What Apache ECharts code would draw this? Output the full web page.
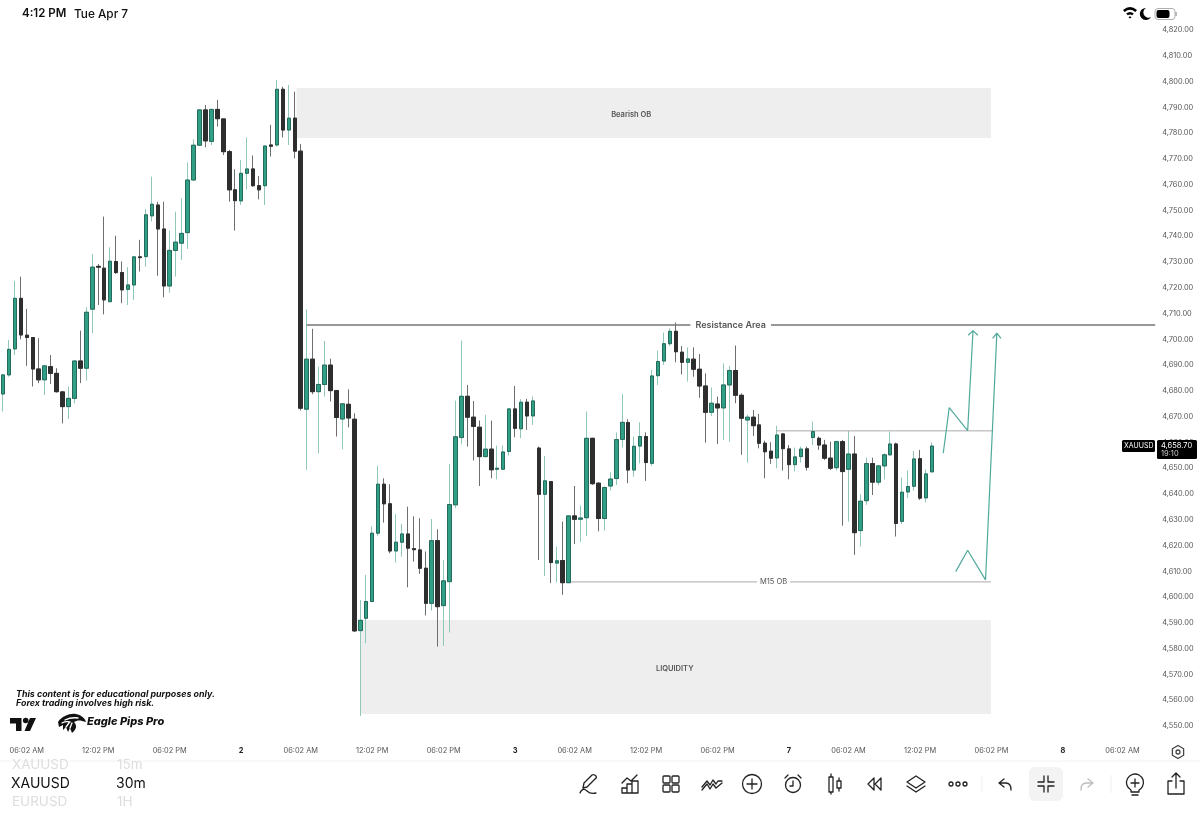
<!DOCTYPE html>
<html>
<head>
<meta charset="utf-8">
<style>
  html, body { margin: 0; padding: 0; background: #fff; }
  #chart { width: 1200px; height: 827px; }
</style>
<script src="https://cdn.jsdelivr.net/npm/echarts@6/dist/echarts.min.js"></script>
</head>
<body>
<div id="chart"></div>
<script>
const opens = [
  4678.8, 4686.2, 4696.3, 4715.9, 4701.6, 4700.7, 4688.5, 4684.3, 4689.4, 4686.8,
  4679.6, 4673.9, 4677.1, 4691.6, 4688.8, 4711.7, 4728.3, 4727.6, 4714.6, 4730.2,
  4725.9, 4719.4, 4721.1, 4732.0, 4732.1, 4747.9, 4752.1, 4742.8, 4720.7, 4734.5,
  4737.3, 4741.4, 4761.8, 4775.3, 4789.0, 4776.8, 4789.2, 4785.5, 4772.8, 4758.0,
  4753.7, 4764.4, 4766.1, 4759.6, 4759.6, 4775.4, 4775.4, 4797.0, 4781.2, 4785.8,
  4773.0, 4672.9, 4692.3, 4679.7, 4682.5, 4690.0, 4680.1, 4669.1, 4674.8, 4669.0,
  4587.0, 4591.8, 4598.3, 4624.8, 4643.8, 4636.2, 4617.9, 4621.3, 4624.5, 4618.8,
  4618.3, 4611.2, 4597.6, 4621.9, 4596.7, 4606.0, 4635.8, 4661.9, 4677.9, 4669.8,
  4665.9, 4654.5, 4657.4, 4649.6, 4649.6, 4656.5, 4673.0, 4665.3, 4675.6, 4670.3,
  4657.8, 4639.9, 4644.8, 4613.2, 4614.2, 4605.6, 4631.5, 4630.2, 4630.8, 4661.6,
  4644.2, 4630.5, 4643.1, 4646.0, 4661.2, 4667.7, 4649.3, 4658.6, 4662.3, 4651.9,
  4685.9, 4691.6, 4698.3, 4703.1, 4695.0, 4691.1, 4692.3, 4688.4, 4681.9, 4671.7,
  4674.9, 4673.4, 4682.3, 4687.9, 4678.3, 4668.7, 4669.8, 4666.8, 4659.7, 4656.6,
  4654.0, 4663.3, 4657.5, 4651.4, 4654.5, 4657.5, 4661.9, 4661.6, 4659.0, 4653.9,
  4650.2, 4660.3, 4649.6, 4655.5, 4625.8, 4637.4, 4651.8, 4644.6, 4650.9, 4655.2,
  4659.4, 4629.4, 4640.8, 4643.0, 4653.7, 4638.5, 4648.6
];
const closes = [
  4686.2, 4696.1, 4715.9, 4701.7, 4700.7, 4688.5, 4684.3, 4689.7, 4686.8, 4679.7,
  4673.9, 4677.1, 4691.6, 4688.8, 4710.5, 4728.0, 4728.0, 4715.3, 4730.3, 4725.9,
  4719.2, 4721.1, 4732.0, 4731.7, 4748.3, 4752.4, 4742.8, 4720.7, 4734.5, 4737.7,
  4741.1, 4761.8, 4775.3, 4789.0, 4777.0, 4789.2, 4785.6, 4772.8, 4758.0, 4753.8,
  4764.4, 4766.1, 4759.6, 4758.0, 4775.0, 4774.9, 4797.0, 4781.2, 4785.8, 4773.0,
  4673.3, 4692.3, 4679.7, 4682.5, 4690.0, 4680.1, 4669.7, 4675.0, 4669.5, 4586.9,
  4591.0, 4598.3, 4624.8, 4643.8, 4636.2, 4617.9, 4621.3, 4624.5, 4619.0, 4618.4,
  4611.2, 4597.6, 4621.9, 4596.3, 4606.3, 4635.9, 4662.2, 4677.9, 4669.8, 4666.2,
  4654.5, 4657.4, 4649.4, 4650.0, 4656.3, 4673.0, 4665.5, 4675.6, 4670.3, 4676.1,
  4639.9, 4645.1, 4613.4, 4614.1, 4605.6, 4631.5, 4630.2, 4630.7, 4661.6, 4644.0,
  4630.5, 4642.5, 4645.8, 4661.1, 4667.8, 4649.3, 4658.5, 4662.3, 4652.2, 4685.8,
  4691.4, 4698.3, 4703.1, 4695.2, 4691.1, 4692.4, 4688.4, 4681.9, 4671.7, 4675.2,
  4673.4, 4682.3, 4687.9, 4678.3, 4669.4, 4669.8, 4666.5, 4659.7, 4656.4, 4653.9,
  4662.9, 4657.6, 4651.4, 4654.4, 4657.4, 4650.4, 4664.2, 4659.0, 4653.9, 4650.0,
  4660.3, 4648.7, 4655.5, 4625.0, 4637.2, 4651.8, 4644.6, 4650.9, 4655.2, 4659.4,
  4628.6, 4640.7, 4642.9, 4653.6, 4638.4, 4647.8, 4658.6
];
const lows = [
  4672.0, 4685.5, 4693.9, 4700.0, 4689.7, 4681.7, 4683.0, 4678.4, 4682.7, 4679.3,
  4667.4, 4669.1, 4675.2, 4683.0, 4684.0, 4702.4, 4713.3, 4709.7, 4714.6, 4725.4,
  4714.0, 4713.3, 4715.3, 4726.3, 4728.2, 4745.7, 4724.7, 4716.3, 4718.1, 4724.3,
  4730.8, 4735.1, 4761.8, 4775.3, 4774.5, 4775.4, 4782.5, 4771.5, 4753.4, 4742.2,
  4752.1, 4758.2, 4759.2, 4754.3, 4752.1, 4770.9, 4774.8, 4778.3, 4775.4, 4770.2,
  4672.4, 4649.4, 4678.7, 4655.8, 4677.8, 4675.9, 4662.3, 4657.4, 4665.8, 4586.5,
  4553.9, 4582.1, 4598.0, 4623.8, 4628.9, 4617.0, 4613.4, 4615.7, 4603.8, 4613.8,
  4609.0, 4592.9, 4594.8, 4580.8, 4581.1, 4586.3, 4634.5, 4659.3, 4658.4, 4653.0,
  4643.1, 4654.3, 4646.1, 4645.7, 4649.3, 4654.9, 4662.0, 4661.6, 4664.9, 4666.8,
  4614.4, 4608.2, 4605.4, 4605.7, 4600.9, 4605.4, 4620.6, 4621.4, 4623.7, 4643.5,
  4625.5, 4625.8, 4641.3, 4643.5, 4658.1, 4644.2, 4646.7, 4651.9, 4645.1, 4650.9,
  4682.3, 4690.1, 4697.4, 4691.1, 4686.4, 4683.6, 4685.5, 4677.3, 4659.9, 4670.3,
  4659.4, 4661.0, 4660.3, 4675.2, 4655.2, 4652.2, 4662.5, 4657.7, 4646.1, 4651.7,
  4650.0, 4649.1, 4645.7, 4648.7, 4652.2, 4649.1, 4659.0, 4657.1, 4653.2, 4649.3,
  4649.1, 4627.7, 4629.3, 4616.4, 4619.6, 4635.8, 4639.6, 4643.3, 4645.7, 4654.9,
  4623.5, 4628.3, 4638.4, 4641.3, 4637.7, 4636.7, 4648.4
];
const highs = [
  4686.5, 4699.8, 4722.7, 4724.3, 4711.8, 4700.7, 4700.4, 4690.1, 4693.9, 4688.8,
  4680.0, 4681.7, 4692.0, 4703.4, 4712.4, 4733.1, 4729.2, 4747.6, 4735.7, 4740.2,
  4730.2, 4728.0, 4732.1, 4738.6, 4750.5, 4763.1, 4753.4, 4753.4, 4742.2, 4749.5,
  4754.7, 4768.6, 4777.6, 4789.2, 4790.9, 4789.4, 4792.9, 4785.6, 4773.5, 4766.0,
  4769.6, 4778.3, 4771.3, 4763.4, 4775.2, 4783.2, 4800.6, 4798.0, 4798.7, 4796.1,
  4775.8, 4711.7, 4704.1, 4689.4, 4699.4, 4692.5, 4680.4, 4675.3, 4680.6, 4671.3,
  4598.9, 4608.6, 4627.4, 4651.0, 4646.1, 4643.8, 4632.2, 4628.4, 4635.1, 4631.3,
  4630.6, 4617.7, 4630.3, 4626.3, 4614.4, 4651.6, 4676.2, 4699.5, 4682.3, 4676.1,
  4668.5, 4670.7, 4668.5, 4658.8, 4658.8, 4673.3, 4681.9, 4676.8, 4676.9, 4677.8,
  4658.4, 4654.8, 4645.0, 4619.6, 4629.3, 4631.7, 4643.1, 4635.5, 4672.0, 4661.8,
  4644.5, 4642.9, 4648.4, 4663.9, 4678.8, 4669.0, 4662.3, 4667.8, 4663.9, 4688.1,
  4695.6, 4702.6, 4704.3, 4706.5, 4697.4, 4696.9, 4696.9, 4694.3, 4686.8, 4681.3,
  4677.8, 4690.7, 4689.7, 4697.6, 4679.0, 4670.7, 4672.6, 4671.1, 4660.7, 4660.1,
  4666.5, 4663.6, 4659.0, 4658.0, 4658.4, 4658.4, 4668.1, 4662.3, 4661.0, 4660.3,
  4660.7, 4661.0, 4664.6, 4662.5, 4639.9, 4654.1, 4654.1, 4651.3, 4655.8, 4664.2,
  4659.9, 4646.4, 4649.1, 4656.7, 4657.1, 4649.6, 4660.1
];

// bar slots on the time axis, the right part is empty future space
const slotCount = 194;
const timeTickSlots = [4, 16, 28, 40, 50, 62, 74, 86, 96, 108, 120, 132, 142, 154, 166, 178, 188];
const timeTickLabels = ["06:02 AM", "12:02 PM", "06:02 PM", "2", "06:02 AM", "12:02 PM", "06:02 PM", "3",
  "06:02 AM", "12:02 PM", "06:02 PM", "7", "06:02 AM", "12:02 PM", "06:02 PM", "8", "06:02 AM"];

// shaded zones: slot range and price range
const zoneNames = ["Bearish OB", "LIQUIDITY"];
const zoneFrom = [49.3, 60.1];
const zoneTo = [165.9, 165.9];
const zoneTop = [4797.5, 4591.1];
const zoneBottom = [4778.1, 4554.7];
const zoneLabelAt = [105.5, 112.8];

// horizontal levels
const levelNames = ["Resistance Area", "M15 OB", ""];
const levelPrices = [4705.6, 4605.9, 4664.5];
const levelFrom = [51, 94.8, 129.9];
const levelTo = [193.5, 165.9, 166.3];
const levelLabelAt = [122.2, 129.4, 148];

// projected paths with open arrow heads, [slot, price]
const pathA = [[157.9, 4655.8], [158.9, 4673.5], [162.0, 4664.6], [162.9, 4703.4], [162.1, 4701.6], [162.9, 4703.4], [163.7, 4701.6]];
const pathB = [[160.0, 4609.9], [162.0, 4618.2], [165.0, 4606.7], [166.9, 4702.4], [166.2, 4700.4], [166.9, 4702.4], [167.6, 4700.4]];

const upBody = "#2f9f85";
const upEdge = "#26685a";
const upWick = "#8fc8bb";
const downBody = "#2e2e2e";
const downWick = "#6e6e6e";
const arrowColor = "#4fa99a";
const uiFont = "Inter, 'Noto Sans', sans-serif";

const slots = Array.from({ length: slotCount }, (_, i) => String(i));

const wickData = opens.map((o, i) => [o, closes[i], lows[i], highs[i]]);
const bodyData = opens.map((o, i) => [o, closes[i], Math.min(o, closes[i]), Math.max(o, closes[i])]);

function levelSeries(i) {
  const labelled = {
    value: [levelLabelAt[i], levelPrices[i]],
    label: {
      show: !!levelNames[i],
      formatter: levelNames[i],
      position: "inside",
      backgroundColor: "#fff",
      padding: i === 0 ? [1, 5] : [1, 3],
      color: "#555",
      fontFamily: uiFont,
      fontSize: i === 0 ? 9 : 7.5,
      fontWeight: i === 0 ? 600 : 400,
    },
  };
  return {
    type: "line",
    xAxisIndex: 1,
    yAxisIndex: 0,
    symbol: "circle",
    symbolSize: 0,
    showSymbol: true,
    silent: true,
    z: 3,
    lineStyle: { color: i === 0 ? "#777" : "#aaa", width: i === 0 ? 1.5 : 1 },
    data: [[levelFrom[i], levelPrices[i]], labelled, [levelTo[i], levelPrices[i]]],
  };
}

function pathSeries(points) {
  return {
    type: "line",
    xAxisIndex: 1,
    yAxisIndex: 0,
    showSymbol: false,
    silent: true,
    z: 4,
    lineStyle: { color: arrowColor, width: 1.2 },
    data: points,
  };
}

const zoneSeries = {
  type: "custom",
  xAxisIndex: 1,
  yAxisIndex: 0,
  silent: true,
  z: 1,
  data: zoneNames.map((name, i) => [zoneFrom[i], zoneTo[i], zoneTop[i], zoneBottom[i], zoneLabelAt[i]]),
  encode: { x: [0, 1], y: [2, 3] },
  renderItem(params, api) {
    const a = api.coord([api.value(0), api.value(2)]);
    const b = api.coord([api.value(1), api.value(3)]);
    const at = api.coord([api.value(4), (api.value(2) + api.value(3)) / 2]);
    return {
      type: "group",
      children: [
        { type: "rect", shape: { x: a[0], y: a[1], width: b[0] - a[0], height: b[1] - a[1] }, style: { fill: "#eeeeee" } },
        {
          type: "text",
          x: at[0],
          y: at[1] + 2,
          style: {
            text: zoneNames[params.dataIndex],
            align: "center",
            verticalAlign: "middle",
            fill: "#555",
            font: "600 7.5px " + uiFont,
          },
        },
      ],
    };
  },
};

// ---- app chrome ----
function label(text, x, y, size, color, extra) {
  return {
    type: "text",
    x,
    y,
    silent: true,
    style: Object.assign({
      text,
      fill: color,
      font: size + "px " + uiFont,
      align: "left",
      verticalAlign: "middle",
    }, extra || {}),
  };
}

function icon(pathData, x, y, color, filled) {
  return {
    type: "path",
    x,
    y,
    silent: true,
    shape: { pathData },
    style: filled
      ? { fill: color, stroke: "none" }
      : { fill: "none", stroke: color, lineWidth: 1.3, lineCap: "round", lineJoin: "round" },
  };
}

const toolbarIcons = [
  [589, "M-9 9 C-7 4 -4 5 -2 7 S3 10 7 9 M-6 4 L-5 -1 L3 -9 Q5 -10 7 -8 Q8 -6 6 -5 L-2 3 Z"],
  [630, "M-8 9 V4 H-3 V9 Z M-3 9 V0 H2 V9 Z M2 9 V-3 H8 V9 Z M-8 -1 L-3 -6 L1 -3 L7 -9"],
  [671, "M-7 -8 H-2 Q-1 -8 -1 -7 V-2 Q-1 -1 -2 -1 H-7 Q-8 -1 -8 -2 V-7 Q-8 -8 -7 -8 Z M2 -8 H7 Q8 -8 8 -7 V-2 Q8 -1 7 -1 H2 Q1 -1 1 -2 V-7 Q1 -8 2 -8 Z M-7 1 H-2 Q-1 1 -1 2 V7 Q-1 8 -2 8 H-7 Q-8 8 -8 7 V2 Q-8 1 -7 1 Z M2 1 H7 Q8 1 8 2 V7 Q8 8 7 8 H2 Q1 8 1 7 V2 Q1 1 2 1 Z"],
  [712, "M-10 3 L-5 -3 L-2 1 L1 -4 L4 0 L6 -3 L10 -3 M-10 6 L-5 0 L-2 5 L1 0 L4 4 L10 -1"],
  [752, "M-9.5 0 A9.5 9.5 0 1 1 9.5 0 A9.5 9.5 0 1 1 -9.5 0 Z M-5 0 H5 M0 -5 V5"],
  [793, "M-7.5 1 A7.5 7.5 0 1 1 7.5 1 A7.5 7.5 0 1 1 -7.5 1 Z M0 -3 V2 H-3 M-8 -6 L-5 -9 M8 -6 L5 -9"],
  [835, "M-4 -10 V-7 M-4 8 V10 M-6 -7 H-2 V8 H-6 Z M4 -6 V-3 M4 4 V7 M2 -3 H6 V4 H2 Z"],
  [875, "M-1 -6 L-7 0 L-1 6 Z M6 -6 L0 0 L6 6 Z"],
  [916, "M0 -8 L9 -2 L0 4 L-9 -2 Z M-9 2 L0 8 L9 2"],
  [958, "M-5 0 A2 2 0 1 1 -9 0 A2 2 0 1 1 -5 0 Z M2 0 A2 2 0 1 1 -2 0 A2 2 0 1 1 2 0 Z M9 0 A2 2 0 1 1 5 0 A2 2 0 1 1 9 0 Z"],
  [1005, "M-1 -5 L-6 -1 L-1 3 M-6 -1 H1 Q6 -1 6 6"],
  [1046, "M-2 -8 V-2 H-8 M2 -8 V-2 H8 M-2 8 V2 H-8 M2 8 V2 H8"],
  [1087, "M1 -5 L6 -1 L1 3 M6 -1 H-1 Q-6 -1 -6 6", "#bdbdbd"],
  [1135, "M-4 6 A8.5 8.5 0 1 1 4 6 V8 H-4 Z M-3 11 H3 M-4 -1 H4 M0 -5 V3"],
  [1176, "M-4 -3 H-8 V10 H8 V-3 H4 M0 4 V-11 M-4 -7 L0 -11 L4 -7"],
];

const chromeItems = [
  { type: "rect", silent: true, shape: { x: 1029, y: 767, width: 34, height: 34, r: 6 }, style: { fill: "#f3f3f3" } },
  label("4:12 PM", 22, 14, 11.5, "#111", { font: "600 11.5px " + uiFont }),
  label("Tue Apr 7", 74, 14, 11.8, "#111", { font: "500 11.8px " + uiFont }),
  // wifi
  icon("M-7 -1 Q0 -7 7 -1 L5.3 1 Q0 -3.5 -5.3 1 Z M-3.8 2.6 Q0 -0.6 3.8 2.6 L2.2 4.3 Q0 2.8 -2.2 4.3 Z M0 5.2 L1.5 6.3 L0 7.5 L-1.5 6.3 Z", 1130, 11, "#000", true),
  // moon
  icon("M1 -6 A6 6 0 1 0 6 3 A5 5 0 0 1 1 -6 Z", 1145, 14, "#000", true),
  { type: "rect", silent: true, shape: { x: 1155, y: 8.5, width: 20, height: 11, r: 3 }, style: { fill: "none", stroke: "#999", lineWidth: 0.8 } },
  { type: "rect", silent: true, shape: { x: 1156.5, y: 10, width: 13, height: 8, r: 2 }, style: { fill: "#000" } },
  { type: "rect", silent: true, shape: { x: 1175.5, y: 12, width: 1.2, height: 4 }, style: { fill: "#999" } },

  // price tags
  { type: "rect", silent: true, shape: { x: 1122, y: 440, width: 33, height: 12, r: 1.5 }, style: { fill: "#000" } },
  label("XAUUSD", 1124, 446, 7, "#fff"),
  { type: "rect", silent: true, shape: { x: 1157, y: 440, width: 40, height: 19, r: 1.5 }, style: { fill: "#000" } },
  label("4,658.70", 1161, 445.5, 7.5, "#fff"),
  label("19:10", 1161, 453.5, 7.5, "#ccc"),

  // disclaimer and logos
  label("This content is for educational purposes only.", 16, 694, 8.9, "#111", { font: "italic 700 8.9px " + uiFont }),
  label("Forex trading involves high risk.", 16, 703, 8.9, "#111", { font: "italic 700 8.9px " + uiFont }),
  icon("M10 718 H21.5 V731 H16 V723.5 H10 Z M28.5 720.5 A2.8 2.8 0 1 1 22.9 720.5 A2.8 2.8 0 1 1 28.5 720.5 Z M30 718 H36 L30 731 H24.5 Z", 0, 0, "#111", true),
  icon("M58 722 C62 716 70 713 76 714 C81 715 85 718 86 722 L82 721 C79 720 76 721 74 722 C77 725 77 729 72 733 L70 728 L68 732 L66 727 L63 730 L63 725 L59 727 Z", 0, 0, "#111", true),
  icon("M65 720 Q71 717 78 718 M62 723 Q66 721 70 722 M66 727 L69 723 M70 728 L72 723", 0, 0, "#fff"),
  label("Eagle Pips Pro", 87, 722, 11, "#111", { font: "italic 800 11px " + uiFont }),

  // bottom bar
  { type: "line", silent: true, shape: { x1: 0, y1: 761, x2: 1200, y2: 761 }, style: { stroke: "#f2f2f2", lineWidth: 1 } },
  icon("M0 -6.5 L5.6 -3.2 V3.2 L0 6.5 L-5.6 3.2 V-3.2 Z M2 0 A2 2 0 1 1 -2 0 A2 2 0 1 1 2 0 Z", 1178, 752, "#444"),
  label("XAUUSD", 12, 765, 13.5, "#ddd"),
  label("15m", 117, 765, 13.5, "#ddd"),
  label("XAUUSD", 11, 784, 14, "#111"),
  label("30m", 116, 784, 14, "#111"),
  label("EURUSD", 12, 802, 13.5, "#ddd"),
  label("1H", 117, 802, 13.5, "#ddd"),
  { type: "line", silent: true, shape: { x1: 982, y1: 775, x2: 982, y2: 793 }, style: { stroke: "#f0f0f0", lineWidth: 1 } },
  { type: "line", silent: true, shape: { x1: 1111, y1: 775, x2: 1111, y2: 793 }, style: { stroke: "#f0f0f0", lineWidth: 1 } },
].concat(toolbarIcons.map((t) => icon(t[1], t[0], 784, t[2] || "#222")));

// graphic has no path element, a free custom series does
const chromeSeries = {
  type: "custom",
  coordinateSystem: "none",
  silent: true,
  clip: false,
  z: 10,
  data: [0],
  renderItem() {
    return { type: "group", children: chromeItems };
  },
};

const chart = echarts.init(document.getElementById("chart"), null, { renderer: "canvas" });

chart.setOption({
  animation: false,
  backgroundColor: "#fff",
  // one slot is about 5.96px wide, the first bar sits partly off screen
  grid: { left: -1, top: 30, width: 1156.24, height: 696 },
  xAxis: [
    {
      type: "category",
      data: slots,
      boundaryGap: true,
      axisLine: { show: false },
      axisTick: { show: false },
      splitLine: { show: false },
      axisLabel: {
        margin: 21,
        hideOverlap: false,
        interval: (index) => timeTickSlots.includes(index),
        formatter: (value, index) => {
          const text = timeTickLabels[timeTickSlots.indexOf(index)];
          return text.length === 1 ? "{day|" + text + "}" : text;
        },
        color: "#555",
        fontFamily: uiFont,
        fontSize: 7.4,
        rich: { day: { fontFamily: uiFont, fontSize: 7.4, fontWeight: 700, color: "#222" } },
      },
    },
    { type: "value", min: -0.5, max: slotCount - 0.5, show: false },
  ],
  yAxis: {
    type: "value",
    position: "right",
    min: 4550,
    max: 4820,
    interval: 10,
    axisLine: { show: false },
    axisTick: { show: false },
    splitLine: { show: false },
    axisLabel: {
      margin: 7,
      color: "#555",
      fontFamily: uiFont,
      fontSize: 7.4,
      formatter: (v) => v.toLocaleString("en-US", { minimumFractionDigits: 2 }),
    },
  },
  series: [
    zoneSeries,
    {
      type: "candlestick",
      xAxisIndex: 0,
      yAxisIndex: 0,
      silent: true,
      barWidth: 4,
      z: 2,
      itemStyle: { color: upWick, color0: downWick, borderColor: upWick, borderColor0: downWick, borderWidth: 1 },
      data: wickData,
    },
    {
      type: "candlestick",
      xAxisIndex: 0,
      yAxisIndex: 0,
      silent: true,
      barWidth: 4,
      z: 3,
      itemStyle: { color: upBody, color0: downBody, borderColor: upEdge, borderColor0: downBody, borderWidth: 1 },
      data: bodyData,
    },
    levelSeries(0),
    levelSeries(1),
    levelSeries(2),
    pathSeries(pathA),
    pathSeries(pathB),
    chromeSeries,
  ],
});
</script>
</body>
</html>
